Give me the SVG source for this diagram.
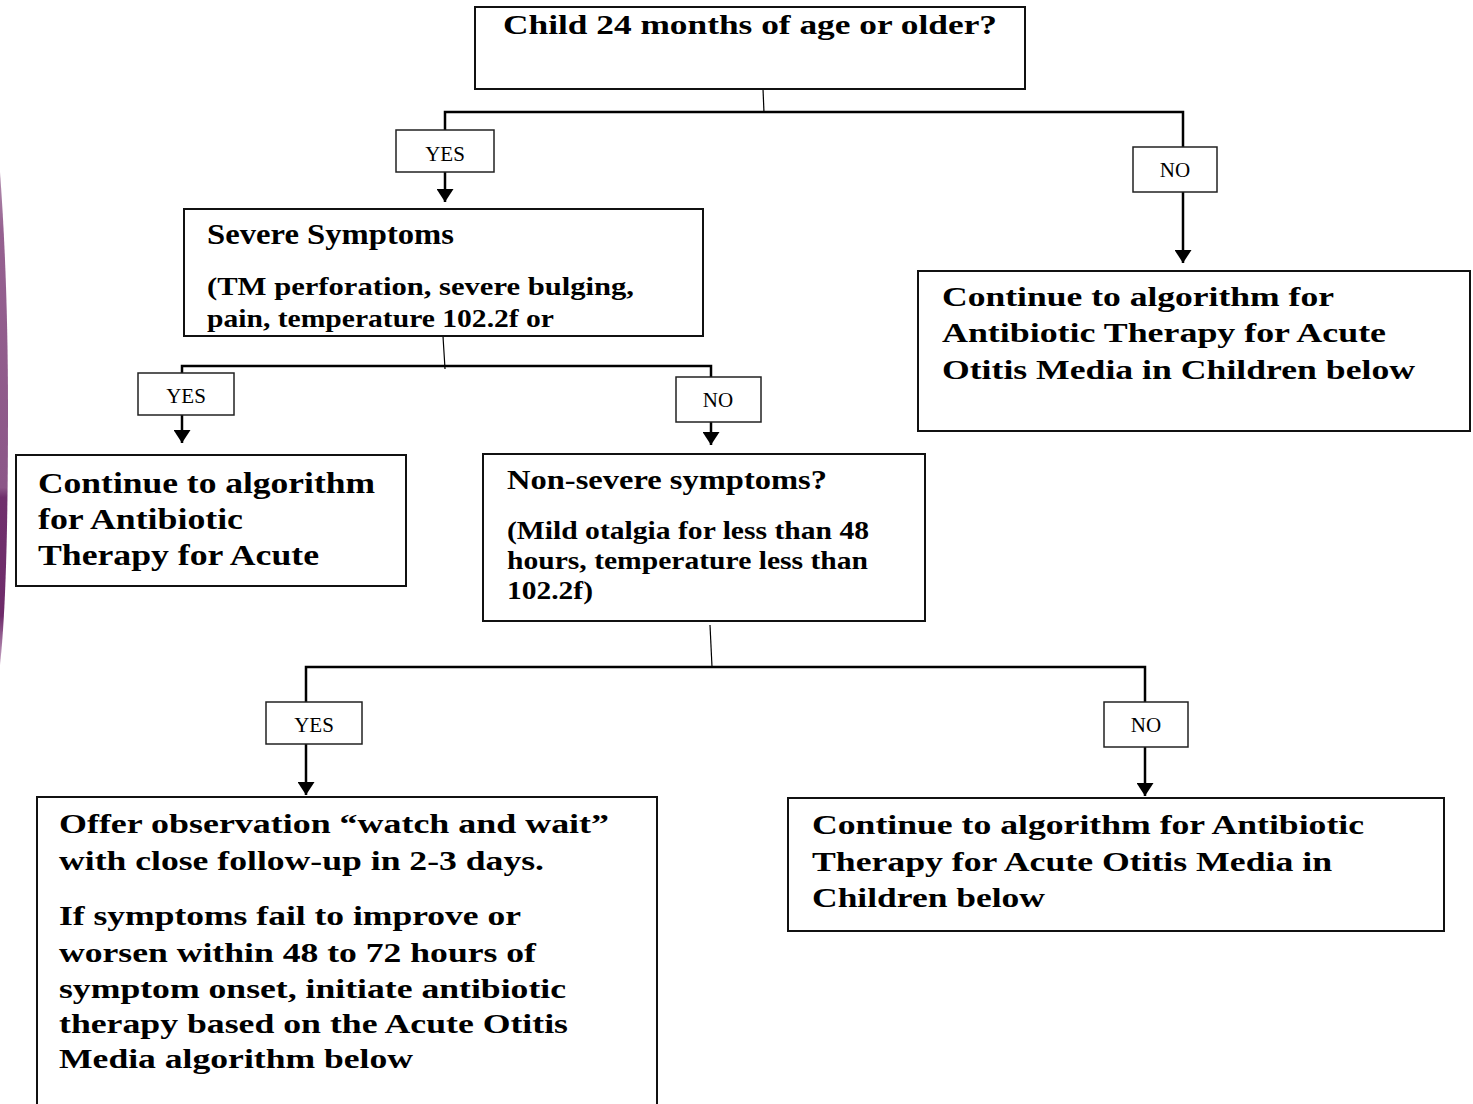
<svg xmlns="http://www.w3.org/2000/svg" width="1473" height="1104" viewBox="0 0 1473 1104">
<style>
.box{fill:#fff;stroke:#111;stroke-width:2}
.lbl{fill:#fff;stroke:#222;stroke-width:1.5}
.t{font-family:"Liberation Serif","Times New Roman",serif;font-weight:bold;fill:#000}
.l{font-family:"Liberation Serif","Times New Roman",serif;font-size:21px;fill:#000;text-anchor:middle}
.c{fill:none;stroke:#000;stroke-width:2.5}
.thin{fill:none;stroke:#000;stroke-width:1.2}
.a{fill:none;stroke:#000;stroke-width:2.5;marker-end:url(#ah)}
</style>
<defs>
<marker id="ah" viewBox="0 0 13 17" markerWidth="13" markerHeight="17" refX="13" refY="8.5" orient="auto" markerUnits="userSpaceOnUse">
<path d="M0,0 L13,8.5 L0,17 z" fill="#000"/>
</marker>
<linearGradient id="pg" x1="0" y1="0" x2="0" y2="1">
<stop offset="0" stop-color="#b28fae"/>
<stop offset="0.12" stop-color="#956190"/>
<stop offset="0.64" stop-color="#8c5788"/>
<stop offset="0.66" stop-color="#70306c"/>
<stop offset="0.9" stop-color="#6e2b6a"/>
<stop offset="1" stop-color="#c9a9c6"/>
</linearGradient>
<clipPath id="sevclip"><rect x="185" y="210" width="517" height="125"/></clipPath>
</defs>
<rect width="1473" height="1104" fill="#fff"/>
<path d="M0,172 C5,240 8,320 8,410 C8,520 6,610 0,665 Z" fill="url(#pg)"/>

<g id="connectors">
<path class="thin" d="M763,89 L764,113"/>
<path class="c" d="M445,130 V112 H1183 V147"/>
<path class="a" d="M445,172 V202"/>
<path class="a" d="M1183,192 V263"/>
<path class="thin" d="M443,336 L445,369"/>
<path class="c" d="M182,373 V366 H711 V377"/>
<path class="a" d="M182,415 V443"/>
<path class="a" d="M711,422 V445"/>
<path class="thin" d="M710,625 L712,667"/>
<path class="c" d="M306,702 V667 H1145 V702"/>
<path class="a" d="M306,744 V795"/>
<path class="a" d="M1145,747 V796"/>
</g>

<g id="node-age">
<rect class="box" x="475" y="7" width="550" height="82"/>
<text class="t" x="503" y="34" font-size="27" textLength="494" lengthAdjust="spacingAndGlyphs">Child 24 months of age or older?</text>
</g>

<g id="label-yes-1">
<rect class="lbl" x="396" y="130" width="98" height="42"/>
<text class="l" x="445" y="161">YES</text>
</g>
<g id="label-no-1">
<rect class="lbl" x="1133" y="147" width="84" height="45"/>
<text class="l" x="1175" y="177">NO</text>
</g>

<g id="node-severe">
<rect class="box" x="184" y="209" width="519" height="127"/>
<g clip-path="url(#sevclip)">
<text class="t" x="207" y="244" font-size="29" textLength="247" lengthAdjust="spacingAndGlyphs">Severe Symptoms</text>
<text class="t" x="207" y="295" font-size="25" textLength="427" lengthAdjust="spacingAndGlyphs">(TM perforation, severe bulging,</text>
<text class="t" x="207" y="327" font-size="25" textLength="347" lengthAdjust="spacingAndGlyphs">pain, temperature 102.2f or</text>
</g>
</g>

<g id="node-continue-right">
<rect class="box" x="918" y="271" width="552" height="160"/>
<text class="t" x="942" y="306" font-size="28" textLength="392" lengthAdjust="spacingAndGlyphs">Continue to algorithm for</text>
<text class="t" x="942" y="342" font-size="28" textLength="444" lengthAdjust="spacingAndGlyphs">Antibiotic Therapy for Acute</text>
<text class="t" x="942" y="379" font-size="28" textLength="473" lengthAdjust="spacingAndGlyphs">Otitis Media in Children below</text>
</g>

<g id="label-yes-2">
<rect class="lbl" x="138" y="373" width="96" height="42"/>
<text class="l" x="186" y="403">YES</text>
</g>
<g id="label-no-2">
<rect class="lbl" x="676" y="377" width="85" height="45"/>
<text class="l" x="718" y="407">NO</text>
</g>

<g id="node-continue-left">
<rect class="box" x="16" y="455" width="390" height="131"/>
<text class="t" x="38" y="493" font-size="30" textLength="337" lengthAdjust="spacingAndGlyphs">Continue to algorithm</text>
<text class="t" x="38" y="529" font-size="30" textLength="205" lengthAdjust="spacingAndGlyphs">for Antibiotic</text>
<text class="t" x="38" y="565" font-size="30" textLength="281" lengthAdjust="spacingAndGlyphs">Therapy for Acute</text>
</g>

<g id="node-nonsevere">
<rect class="box" x="483" y="454" width="442" height="167"/>
<text class="t" x="507" y="489" font-size="27" textLength="320" lengthAdjust="spacingAndGlyphs">Non-severe symptoms?</text>
<text class="t" x="507" y="539" font-size="25" textLength="362" lengthAdjust="spacingAndGlyphs">(Mild otalgia for less than 48</text>
<text class="t" x="507" y="569" font-size="25" textLength="361" lengthAdjust="spacingAndGlyphs">hours, temperature less than</text>
<text class="t" x="507" y="599" font-size="25" textLength="86" lengthAdjust="spacingAndGlyphs">102.2f)</text>
</g>

<g id="label-yes-3">
<rect class="lbl" x="266" y="702" width="96" height="42"/>
<text class="l" x="314" y="732">YES</text>
</g>
<g id="label-no-3">
<rect class="lbl" x="1104" y="702" width="84" height="45"/>
<text class="l" x="1146" y="732">NO</text>
</g>

<g id="node-observe">
<rect class="box" x="37" y="797" width="620" height="320"/>
<text class="t" x="59" y="833" font-size="27" textLength="550" lengthAdjust="spacingAndGlyphs">Offer observation “watch and wait”</text>
<text class="t" x="59" y="870" font-size="27" textLength="485" lengthAdjust="spacingAndGlyphs">with close follow-up in 2-3 days.</text>
<text class="t" x="59" y="925" font-size="27" textLength="462" lengthAdjust="spacingAndGlyphs">If symptoms fail to improve or</text>
<text class="t" x="59" y="962" font-size="27" textLength="477" lengthAdjust="spacingAndGlyphs">worsen within 48 to 72 hours of</text>
<text class="t" x="59" y="998" font-size="27" textLength="507" lengthAdjust="spacingAndGlyphs">symptom onset, initiate antibiotic</text>
<text class="t" x="59" y="1033" font-size="27" textLength="509" lengthAdjust="spacingAndGlyphs">therapy based on the Acute Otitis</text>
<text class="t" x="59" y="1068" font-size="27" textLength="354" lengthAdjust="spacingAndGlyphs">Media algorithm below</text>
</g>

<g id="node-continue-bottom">
<rect class="box" x="788" y="798" width="656" height="133"/>
<text class="t" x="812" y="834" font-size="28" textLength="552" lengthAdjust="spacingAndGlyphs">Continue to algorithm for Antibiotic</text>
<text class="t" x="812" y="871" font-size="28" textLength="520" lengthAdjust="spacingAndGlyphs">Therapy for Acute Otitis Media in</text>
<text class="t" x="812" y="907" font-size="28" textLength="233" lengthAdjust="spacingAndGlyphs">Children below</text>
</g>
</svg>
